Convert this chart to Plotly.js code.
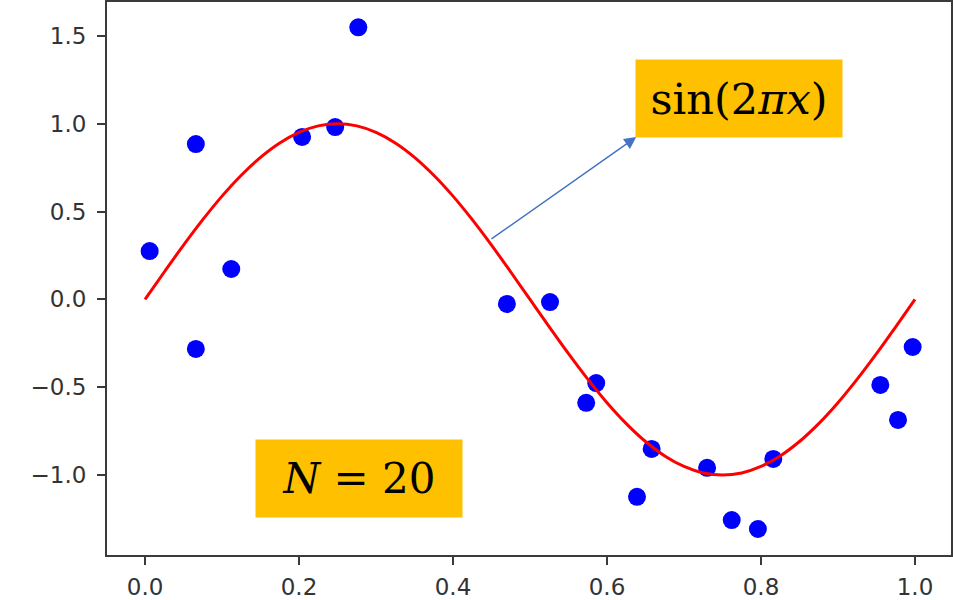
<!DOCTYPE html>
<html>
<head>
<meta charset="utf-8">
<script src="https://cdn.plot.ly/plotly-3.0.1.min.js"></script>
<style>html,body{margin:0;padding:0;background:#fff;}#chart{width:953px;height:600px;}</style>
</head>
<body>
<div id="chart"></div>
<script>
// Noisy samples
const sampleX = [0.006, 0.066, 0.066, 0.112, 0.204, 0.247, 0.277, 0.470, 0.526, 0.573,
                 0.586, 0.639, 0.658, 0.730, 0.762, 0.796, 0.816, 0.955, 0.978, 0.997];
const sampleY = [0.275, 0.884, -0.282, 0.173, 0.925, 0.981, 1.549, -0.026, -0.015, -0.589,
                 -0.476, -1.124, -0.851, -0.959, -1.256, -1.307, -0.908, -0.487, -0.686, -0.271];
// Red reference curve
const curveX = [0, 0.025, 0.05, 0.075, 0.10, 0.125, 0.15, 0.175, 0.20, 0.225, 0.25,
                0.275, 0.30, 0.325, 0.35, 0.375, 0.40, 0.425, 0.45, 0.475, 0.50,
                0.525, 0.55, 0.575, 0.60, 0.625, 0.65, 0.675, 0.70, 0.725, 0.75,
                0.775, 0.80, 0.825, 0.85, 0.875, 0.90, 0.925, 0.95, 0.975, 1.00];
const curveY = [0, 0.156, 0.309, 0.454, 0.588, 0.707, 0.809, 0.891, 0.951, 0.988, 1.000,
                0.988, 0.951, 0.891, 0.809, 0.707, 0.588, 0.454, 0.309, 0.156, 0,
                -0.156, -0.309, -0.454, -0.588, -0.707, -0.809, -0.891, -0.951, -0.988, -1.000,
                -0.988, -0.951, -0.891, -0.809, -0.707, -0.588, -0.454, -0.309, -0.156, 0];
const xTicks = [0, 0.2, 0.4, 0.6, 0.8, 1.0];
const yTicks = [-1.0, -0.5, 0.0, 0.5, 1.0, 1.5];
const curveLabel = 'sin(2<i>πx</i>)';
const nLabel = '<i>N</i> = 20';

const traces = [
  {x: sampleX, y: sampleY, mode: 'markers', type: 'scatter',
   marker: {color: '#0000ff', size: 18}, hoverinfo: 'skip'},
  {x: curveX, y: curveY, mode: 'lines', type: 'scatter',
   line: {color: '#ff0000', width: 3, shape: 'spline', smoothing: 1}, hoverinfo: 'skip'}
];

const axisCommon = {
  showgrid: false, zeroline: false, showline: true, mirror: true,
  linecolor: '#3a3a3a', linewidth: 2, ticks: 'outside', ticklen: 8, tickwidth: 2,
  tickcolor: '#3a3a3a', tickfont: {family: 'DejaVu Sans', size: 23, color: '#333'}
};

const layout = {
  width: 953, height: 600,
  margin: {l: 107, r: 2, t: 2, b: 45},
  paper_bgcolor: '#fff', plot_bgcolor: '#fff',
  showlegend: false,
  xaxis: Object.assign({}, axisCommon, {range: [-0.0494, 1.0468], tickvals: xTicks,
    ticktext: xTicks.map(v => v.toFixed(1)), ticklabelstandoff: 2}),
  yaxis: Object.assign({}, axisCommon, {range: [-1.455, 1.693], tickvals: yTicks,
    ticktext: yTicks.map(v => (v < 0 ? '\u2212' : '') + Math.abs(v).toFixed(1)), ticklabelstandoff: 6}),
  annotations: [
    {x: 0.638, y: 0.924, ax: 0.448, ay: 0.338, xref: 'x', yref: 'y', axref: 'x', ayref: 'y',
     text: '', showarrow: true, arrowcolor: '#4472C4', arrowwidth: 1.5, arrowhead: 2, arrowsize: 1.6},
    {x: 0.771, y: 1.143, xref: 'x', yref: 'y', text: curveLabel, showarrow: false,
     bgcolor: '#FFC000', width: 206, height: 77, borderpad: 0,
     font: {family: 'DejaVu Serif', size: 43, color: '#000'}},
    {x: 0.278, y: -1.019, xref: 'x', yref: 'y', text: nLabel, showarrow: false,
     bgcolor: '#FFC000', width: 206, height: 77, borderpad: 0,
     font: {family: 'DejaVu Serif', size: 42, color: '#000'}}
  ]
};

Plotly.newPlot('chart', traces, layout, {staticPlot: true, displayModeBar: false});
</script>
</body>
</html>
